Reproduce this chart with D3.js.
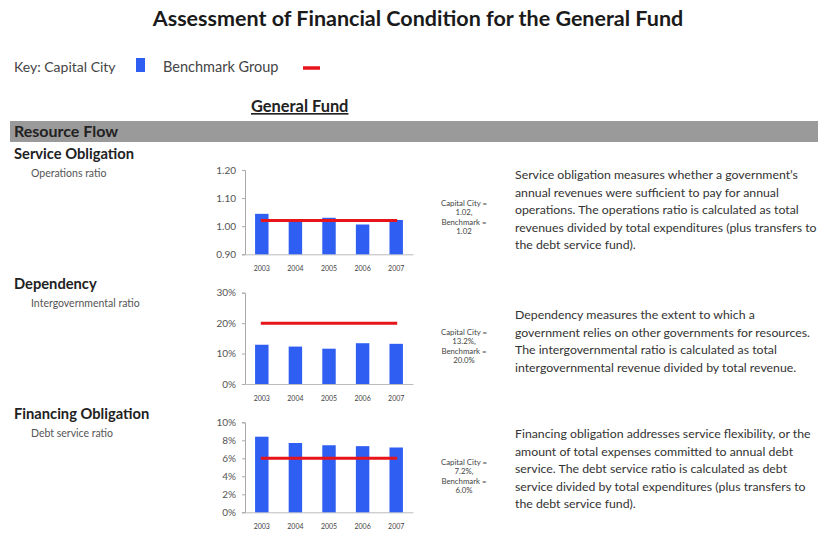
<!DOCTYPE html>
<html>
<head>
<meta charset="utf-8">
<script src="https://cdn.jsdelivr.net/npm/d3@7"></script>
<style>
  body { margin: 0; background: #fff; }
  svg { display: block; font-family: Lato, "Open Sans", sans-serif; }
</style>
</head>
<body>
<div id="chart"></div>
<script>
// data
var years = ['2003', '2004', '2005', '2006', '2007']
var opsRatio = [1.044, 1.016, 1.03, 1.006, 1.022]
var opsBench = 1.02
var interRatio = [12.9, 12.3, 11.6, 13.4, 13.2]
var interBench = 20
var debtRatio = [8.4, 7.7, 7.45, 7.35, 7.2]
var debtBench = 6
var opsTicks = [0.9, 1.0, 1.1, 1.2]
var interTicks = [0, 10, 20, 30]
var debtTicks = [0, 2, 4, 6, 8, 10]

var panels = [
    {
        head: 'Service Obligation', sub: 'Operations ratio',
        values: opsRatio, bench: opsBench, domain: [0.9, 1.2], ticks: opsTicks,
        fmt: d3.format('.2f'),
        note: ['Capital City =', '1.02,', 'Benchmark =', '1.02'],
        desc: ['Service obligation measures whether a government\u2019s',
            'annual revenues were sufficient to pay for annual',
            'operations. The operations ratio is calculated as total',
            'revenues divided by total expenditures (plus transfers to',
            'the debt service fund).'],
        headY: 159, top: 170, bottom: 254.3, noteY: 206, descY: 179
    },
    {
        head: 'Dependency', sub: 'Intergovernmental ratio',
        values: interRatio, bench: interBench, domain: [0, 30], ticks: interTicks,
        fmt: d => d + '%',
        note: ['Capital City =', '13.2%,', 'Benchmark =', '20.0%'],
        desc: ['Dependency measures the extent to which a',
            'government relies on other governments for resources.',
            'The intergovernmental ratio is calculated as total',
            'intergovernmental revenue divided by total revenue.'],
        headY: 289, top: 292.7, bottom: 384, noteY: 335, descY: 319
    },
    {
        head: 'Financing Obligation', sub: 'Debt service ratio',
        values: debtRatio, bench: debtBench, domain: [0, 10], ticks: debtTicks,
        fmt: d => d + '%',
        note: ['Capital City =', '7.2%,', 'Benchmark =', '6.0%'],
        desc: ['Financing obligation addresses service flexibility, or the',
            'amount of total expenses committed to annual debt',
            'service. The debt service ratio is calculated as debt',
            'service divided by total expenditures (plus transfers to',
            'the debt service fund).'],
        headY: 419, top: 422.3, bottom: 512.3, noteY: 465, descY: 438
    }
]

const width = 818, height = 533
const blue = '#2f5ff2', red = '#e8141c'

const svg = d3.select('#chart')
    .append('svg')
    .attr('width', width)
    .attr('height', height)

// title
svg.append('text')
    .attr('x', 418).attr('y', 26)
    .attr('text-anchor', 'middle')
    .style('font-size', '21.5px').style('font-weight', 'bold').style('fill', '#1a1a1a')
    .text('Assessment of Financial Condition for the General Fund')

// key
svg.append('text').attr('x', 14).attr('y', 72)
    .style('font-size', '14px').style('fill', '#444')
    .text('Key: Capital City')
svg.append('rect').attr('x', 136).attr('y', 58).attr('width', 9).attr('height', 14).style('fill', blue)
svg.append('text').attr('x', 163).attr('y', 72)
    .style('font-size', '14.5px').style('fill', '#444')
    .text('Benchmark Group')
svg.append('line').attr('x1', 303).attr('x2', 320).attr('y1', 68).attr('y2', 68)
    .style('stroke', red).style('stroke-width', 3.5)

// General Fund heading
svg.append('text').attr('x', 251).attr('y', 112)
    .style('font-size', '16.4px').style('font-weight', 'bold').style('fill', '#222')
    .style('text-decoration', 'underline')
    .text('General Fund')

// Resource flow band
svg.append('rect').attr('x', 10).attr('y', 121).attr('width', 808).attr('height', 21).style('fill', '#9a9a9a')
svg.append('text').attr('x', 14).attr('y', 137)
    .style('font-size', '16px').style('font-weight', 'bold').style('fill', '#222')
    .text('Resource Flow')

const x = d3.scaleBand()
    .domain(years)
    .range([245, 413])
    .paddingInner(0.6)
    .paddingOuter(0.3)

panels.forEach(function (p) {
    svg.append('text').attr('x', 14).attr('y', p.headY)
        .style('font-size', '14.7px').style('font-weight', 'bold').style('fill', '#222')
        .text(p.head)
    svg.append('text').attr('x', 31).attr('y', p.headY + 18)
        .style('font-size', '10.5px').style('fill', '#555')
        .text(p.sub)

    const y = d3.scaleLinear().domain(p.domain).range([p.bottom, p.top])

    // Y axis
    const ya = svg.append('g')
        .attr('transform', 'translate(245,0)')
        .call(d3.axisLeft(y).tickValues(p.ticks).tickFormat(p.fmt).tickSize(3).tickPadding(6))
    ya.select('.domain').style('stroke', '#aaa')
    ya.selectAll('.tick line').style('stroke', '#aaa')
    ya.selectAll('text').style('font-size', '10px').style('fill', '#555').style('font-family', 'Lato, sans-serif')

    // X axis
    const xa = svg.append('g')
        .attr('transform', `translate(0, ${p.bottom})`)
        .call(d3.axisBottom(x).tickSize(0).tickPadding(12))
    xa.select('.domain').style('stroke', '#bbb')
    xa.selectAll('text').style('font-size', '7px').style('fill', '#444').style('font-family', 'Lato, sans-serif')

    // bars
    svg.append('g')
        .selectAll('rect')
        .data(p.values)
        .join('rect')
        .attr('x', (d, i) => x(years[i]))
        .attr('width', x.bandwidth())
        .attr('y', d => y(d))
        .attr('height', d => p.bottom - y(d))
        .style('fill', blue)

    // benchmark line
    svg.append('line')
        .attr('x1', x(years[0]) + x.bandwidth() / 2 - 1)
        .attr('x2', x(years[years.length - 1]) + x.bandwidth() / 2 + 1)
        .attr('y1', y(p.bench)).attr('y2', y(p.bench))
        .style('stroke', red).style('stroke-width', 3)

    // note
    svg.append('g').selectAll('text')
        .data(p.note)
        .join('text')
        .attr('x', 464)
        .attr('y', (d, i) => p.noteY + i * 9.3)
        .attr('text-anchor', 'middle')
        .style('font-size', '7.8px').style('fill', '#444')
        .text(d => d)

    // description
    svg.append('g').selectAll('text')
        .data(p.desc)
        .join('text')
        .attr('x', 515)
        .attr('y', (d, i) => p.descY + i * 17.5)
        .style('font-size', '12.3px').style('fill', '#333')
        .text(d => d)
})
</script>
</body>
</html>
